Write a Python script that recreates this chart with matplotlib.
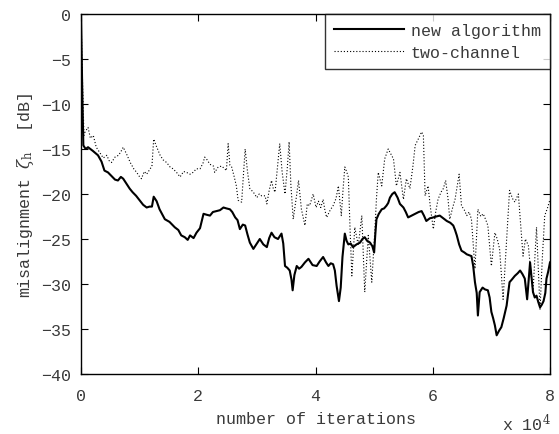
import matplotlib
matplotlib.use("Agg")
import matplotlib.pyplot as plt
import numpy as np

# x in units of 1e4 iterations
new_x = [0.0, 0.02, 0.04, 0.08, 0.12, 0.2, 0.29, 0.35, 0.40, 0.46, 0.52, 0.58, 0.63, 0.68, 0.72, 0.78,
         0.83, 0.88, 0.94, 1.0, 1.06, 1.12, 1.17, 1.21, 1.24, 1.29, 1.34, 1.43, 1.51, 1.60, 1.66, 1.71,
         1.77, 1.82, 1.86, 1.92, 1.97, 2.03, 2.09, 2.14, 2.20, 2.25, 2.31, 2.37, 2.43, 2.48, 2.54,
         2.58, 2.63, 2.67, 2.71, 2.76, 2.80, 2.84, 2.88, 2.94, 3.00, 3.05, 3.11, 3.17, 3.21, 3.25,
         3.30, 3.36, 3.42, 3.45, 3.48, 3.52, 3.56, 3.59, 3.61, 3.64, 3.68, 3.72, 3.76, 3.82, 3.88,
         3.95, 4.02, 4.07, 4.13, 4.18, 4.22, 4.26, 4.30, 4.33, 4.36, 4.40, 4.43, 4.46, 4.50, 4.53,
         4.56, 4.60, 4.64, 4.70, 4.76, 4.80, 4.84, 4.88, 4.93, 4.97, 5.00, 5.02, 5.04, 5.08, 5.13,
         5.17, 5.21, 5.24, 5.27, 5.31, 5.35, 5.40, 5.44, 5.47, 5.50, 5.54, 5.58, 5.64, 5.70, 5.76,
         5.81, 5.85, 5.89, 5.95, 6.01, 6.06, 6.12, 6.18, 6.24, 6.30, 6.35, 6.38, 6.41, 6.45, 6.49,
         6.54, 6.58, 6.62, 6.66, 6.69, 6.72, 6.75, 6.77, 6.80, 6.85, 6.89, 6.94, 6.97, 7.00, 7.03,
         7.06, 7.09, 7.13, 7.17, 7.21, 7.26, 7.31, 7.35, 7.40, 7.45, 7.49, 7.53, 7.57, 7.61, 7.66,
         7.71, 7.74, 7.77, 7.80, 7.83, 7.86, 7.89, 7.92, 7.94, 7.97, 8.0]
new_y = [0.0, -8.0, -14.6, -15.0, -14.8, -15.2, -15.7, -16.4, -17.4, -17.6, -18.0, -18.4, -18.5, -18.1,
         -18.3, -18.9, -19.4, -19.8, -20.2, -20.7, -21.2, -21.5, -21.4, -21.4, -20.3, -20.8, -21.7,
         -22.8, -23.1, -23.7, -24.0, -24.6, -24.8, -25.1, -24.6, -24.9, -24.3, -23.8, -22.2, -22.3,
         -22.4, -22.0, -21.9, -21.8, -21.5, -21.6, -21.7, -22.0, -22.6, -22.9, -23.9, -23.4, -23.5,
         -24.5, -25.4, -26.1, -25.5, -25.0, -25.6, -25.9, -24.9, -24.3, -24.8, -25.0, -24.4, -25.5,
         -28.0, -28.2, -28.5, -29.5, -30.7, -29.0, -28.0, -28.3, -28.1, -27.6, -27.2, -27.9, -28.0,
         -27.5, -27.0, -27.6, -28.0, -27.7, -27.8, -28.5, -30.2, -31.9, -30.4, -27.0, -24.4, -25.2,
         -25.6, -25.5, -25.9, -25.6, -25.4, -25.0, -24.8, -25.2, -25.4, -25.8, -26.5, -24.5, -22.8,
         -22.2, -21.7, -21.6, -21.3, -21.0, -20.4, -20.0, -19.8, -20.4, -21.1, -21.3, -21.5, -22.0,
         -22.6, -22.4, -22.2, -22.0, -21.9, -22.4, -23.0, -22.7, -22.6, -22.5, -22.4, -22.7, -23.0,
         -23.2, -23.5, -24.0, -24.6, -25.6, -26.3, -26.5, -26.7, -26.8, -26.9, -28.0, -29.8, -31.0,
         -33.5, -30.9, -30.4, -30.6, -30.7, -31.5, -33.1, -33.8, -34.6, -35.7, -35.2, -34.8, -33.8,
         -32.4, -29.8, -29.5, -29.1, -28.8, -28.5, -28.9, -29.4, -31.7, -27.6, -30.9, -31.5, -31.3,
         -32.0, -32.6, -32.3, -31.9, -31.0, -29.4, -28.6, -27.6]

two_x = [0.0, 0.02, 0.05, 0.07, 0.12, 0.16, 0.21, 0.26, 0.32, 0.38, 0.44, 0.48, 0.52, 0.58, 0.64, 0.68,
         0.72, 0.78, 0.84, 0.90, 0.95, 0.99, 1.03, 1.08, 1.12, 1.17, 1.21, 1.24, 1.28, 1.35, 1.40,
         1.46, 1.52, 1.57, 1.63, 1.69, 1.75, 1.80, 1.86, 1.91, 1.97, 2.03, 2.08, 2.11, 2.14, 2.20,
         2.26, 2.28, 2.34, 2.40, 2.45, 2.48, 2.51, 2.54, 2.57, 2.61, 2.65, 2.68, 2.74, 2.80, 2.84,
         2.88, 2.94, 3.00, 3.04, 3.08, 3.14, 3.17, 3.21, 3.25, 3.28, 3.31, 3.36, 3.39, 3.43, 3.48,
         3.52, 3.55, 3.58, 3.62, 3.67, 3.71, 3.76, 3.82, 3.86, 3.90, 3.96, 4.01, 4.05, 4.09, 4.13,
         4.16, 4.19, 4.25, 4.30, 4.35, 4.39, 4.44, 4.47, 4.50, 4.53, 4.56, 4.59, 4.62, 4.67, 4.73,
         4.79, 4.84, 4.90, 4.96, 5.01, 5.04, 5.07, 5.13, 5.18, 5.24, 5.28, 5.33, 5.38, 5.44, 5.50,
         5.55, 5.61, 5.66, 5.70, 5.76, 5.81, 5.84, 5.87, 5.92, 5.96, 6.01, 6.05, 6.09, 6.14, 6.18,
         6.22, 6.26, 6.29, 6.34, 6.38, 6.45, 6.49, 6.54, 6.58, 6.62, 6.66, 6.72, 6.77, 6.82, 6.86,
         6.90, 6.94, 7.00, 7.06, 7.10, 7.14, 7.20, 7.27, 7.31, 7.36, 7.40, 7.46, 7.50, 7.54, 7.58,
         7.63, 7.67, 7.71, 7.77, 7.83, 7.87, 7.91, 7.96, 8.0]
two_y = [0.0, -6.0, -13.5, -13.1, -12.6, -13.8, -13.5, -14.8, -15.4, -16.0, -15.7, -16.3, -16.5, -15.9,
         -15.7, -15.3, -14.8, -15.6, -16.5, -17.2, -17.6, -18.0, -18.3, -17.5, -17.8, -17.3, -16.9,
         -13.9, -14.6, -15.7, -16.2, -16.5, -17.0, -17.2, -17.6, -18.1, -17.5, -17.6, -17.8, -17.6,
         -17.2, -17.2, -16.6, -15.9, -16.1, -16.7, -16.9, -17.6, -17.0, -16.9, -17.2, -17.4, -14.4,
         -16.8, -17.0, -18.0, -19.1, -20.7, -20.9, -15.0, -17.5, -19.4, -19.8, -20.4, -20.0, -20.2,
         -20.2, -21.1, -19.6, -18.5, -19.4, -19.8, -16.5, -14.4, -17.5, -20.0, -17.0, -14.2, -19.0,
         -22.8, -20.5, -18.5, -21.7, -23.5, -21.1, -21.3, -20.0, -21.5, -20.8, -21.5, -20.6, -21.8,
         -22.6, -21.8, -21.3, -20.5, -19.1, -22.4, -19.5, -17.0, -17.5, -18.1, -24.0, -29.1, -23.7,
         -25.7, -22.4, -30.9, -24.6, -29.8, -24.3, -20.5, -17.6, -19.1, -16.1, -15.0, -15.5, -16.1,
         -19.1, -17.6, -20.6, -18.3, -19.4, -17.0, -14.6, -13.8, -13.1, -13.5, -20.2, -19.1, -21.5,
         -23.9, -22.0, -20.6, -19.8, -19.4, -18.5, -20.5, -22.8, -21.5, -20.6, -17.8, -21.3, -21.8,
         -22.4, -22.0, -22.8, -28.3, -21.7, -22.5, -22.2, -22.8, -23.5, -28.0, -24.3, -25.0, -26.1,
         -31.7, -23.9, -19.6, -20.5, -20.9, -20.0, -23.5, -26.9, -25.0, -25.7, -28.5, -30.9, -23.7,
         -32.8, -27.0, -22.4, -21.5, -20.6]

x_ticks = [0, 2, 4, 6, 8]
y_ticks = [0, -5, -10, -15, -20, -25, -30, -35, -40]

font = "Liberation Mono"
txt = "#3a3a3a"
plt.rcParams["font.family"] = [font, "DejaVu Sans"]
plt.rcParams["mathtext.fontset"] = "dejavuserif"

fig = plt.figure(figsize=(5.59, 4.35), dpi=100)
ax = fig.add_axes([81/559, 1 - 375/435, 469/559, 360/435])

ax.plot(new_x, new_y, color="black", lw=1.5, label="new algorithm")
ax.plot(two_x, two_y, color="black", lw=0.8, ls=(0, (1, 1.8)), label="two-channel")

ax.set_xlim(0, 8)
ax.set_ylim(-40, 0)
ax.set_xticks(x_ticks)
ax.set_yticks(y_ticks)
ax.set_xticklabels([str(v) for v in x_ticks])
ax.set_yticklabels([("\u2212" + str(-v)) if v < 0 else str(v) for v in y_ticks])
ax.tick_params(direction="in", top=True, right=True, length=5, width=0.8,
               labelsize=12, labelcolor=txt, pad=7)
ax.tick_params(axis="x", pad=10)
for s in ax.spines.values():
    s.set_linewidth(1.0)

ax.set_xlabel("number of iterations", fontsize=12, color=txt, labelpad=6)
ax.set_ylabel(r"misalignment $\zeta_\mathrm{h}$  [dB]", fontsize=12, color=txt, labelpad=4)
fig.text(502/559, 1 - 431/435, r"x 10$^{4}$", fontsize=12, color=txt, va="baseline", ha="left")

leg = ax.legend(loc="upper right", fontsize=12, frameon=True, fancybox=False,
                edgecolor="black", borderaxespad=0, handlelength=4.2,
                handletextpad=0.4, borderpad=0.55, labelspacing=0.4)
leg.get_frame().set_linewidth(1.0)
for t in leg.get_texts():
    t.set_color(txt)

fig.savefig("out.png", dpi=100)
